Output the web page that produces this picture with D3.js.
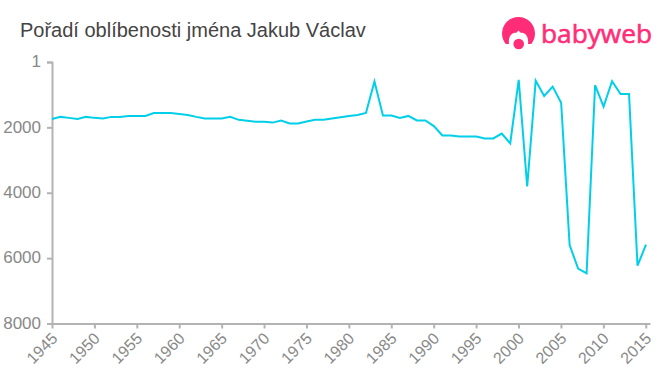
<!DOCTYPE html>
<html>
<head>
<meta charset="utf-8">
<script src="https://cdn.jsdelivr.net/npm/d3@7"></script>
<style>
  html, body { margin: 0; padding: 0; background: #fff; }
  text { font-family: "Liberation Sans", Arial, sans-serif; }
  .tick text { fill: #888; }
  .tick line, .domain { stroke: #b3b3b3; stroke-width: 2px; }
</style>
</head>
<body>
<svg id="chart" width="660" height="375" style="display:block"></svg>
<script>
const title = 'Pořadí oblíbenosti jména Jakub Václav';
const brand = 'babyweb';

const years = d3.range(1945, 2016);
const ranks = [
  1745, 1680, 1710, 1745, 1680, 1710, 1730, 1680, 1680, 1650,
  1650, 1650, 1560, 1560, 1560, 1590, 1620, 1680, 1730, 1730,
  1730, 1680, 1770, 1800, 1830, 1830, 1855, 1790, 1880, 1880,
  1820, 1770, 1770, 1730, 1690, 1650, 1620, 1560, 600, 1640,
  1640, 1710, 1650, 1790, 1790, 1960, 2250, 2250, 2280, 2280,
  2280, 2340, 2340, 2190, 2490, 550, 3810, 570, 1040, 755,
  1245, 5600, 6320, 6465, 710, 1365, 590, 980, 980, 6230,
  5590,
];
const yearTicks = d3.range(1945, 2016, 5);
const rankTicks = [1, 2000, 4000, 6000, 8000];

const svg = d3.select('#chart');

const x = d3.scaleLinear().domain([1945, 2015]).range([52, 646]);
const y = d3.scaleLinear().domain([1, 8000]).range([62, 323.5]);

svg.append('text')
  .attr('x', 20)
  .attr('y', 37)
  .attr('font-size', 20)
  .attr('fill', '#444')
  .text(title);

// logo
const logo = svg.append('g').attr('fill', '#ff2d78');
logo.append('circle').attr('cx', 518.5).attr('cy', 33.5).attr('r', 16.5);
logo.append('path')
  .attr('fill', '#fff')
  .attr('d', 'M509 44 C508 37 512 32 516 33 L518.5 30.5 L521 33 C525 32 529 37 528 44 L537 44 L537 52 L500 52 L500 44 Z');
logo.append('circle').attr('cx', 518.7).attr('cy', 44).attr('r', 5.3);
logo.append('text')
  .attr('x', 541)
  .attr('y', 43)
  .style('font-family', '"Open Sans", sans-serif')
  .attr('font-size', 26)
  .attr('stroke', '#ff2d78')
  .attr('stroke-width', 0.6)
  .attr('textLength', 111)
  .attr('lengthAdjust', 'spacingAndGlyphs')
  .text(brand);

svg.append('g')
  .attr('transform', 'translate(52,0)')
  .call(d3.axisLeft(y).tickValues(rankTicks).tickSize(5).tickPadding(6).tickFormat(d3.format('d')))
  .call(g => g.selectAll('text').attr('font-size', 17).attr('dy', '0.28em'));

const xAxis = d3.scaleLinear().domain([1945, 2015.5]).range([52, 650]);
svg.append('g')
  .attr('transform', 'translate(0,323.5)')
  .call(d3.axisBottom(xAxis).tickValues(yearTicks).tickSize(5).tickSizeOuter(0).tickFormat(d3.format('d')))
  .call(g => g.selectAll('text')
    .attr('font-size', 16)
    .attr('text-anchor', 'end')
    .attr('x', 0)
    .attr('y', 0)
    .attr('dy', 0)
    .attr('transform', 'translate(6,16) rotate(-45)'));

const line = d3.line()
  .x((d, i) => x(years[i]))
  .y(d => y(d));

svg.append('path')
  .datum(ranks)
  .attr('fill', 'none')
  .attr('stroke', '#00cfea')
  .attr('stroke-width', 2)
  .attr('d', line);
</script>
</body>
</html>
